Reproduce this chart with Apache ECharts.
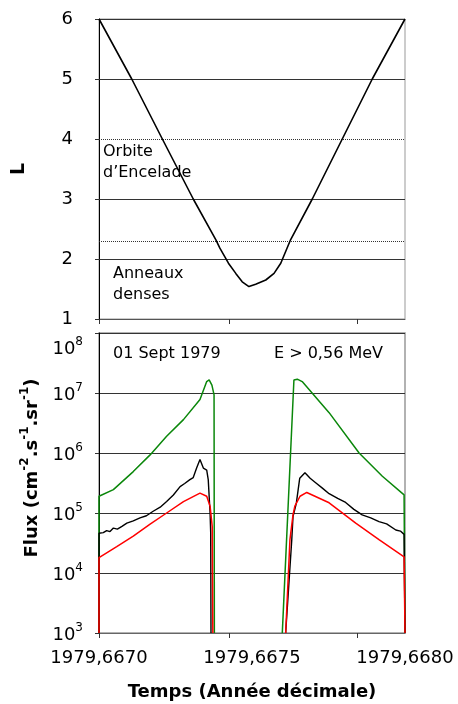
<!DOCTYPE html>
<html>
<head>
<meta charset="utf-8">
<script src="https://cdn.jsdelivr.net/npm/echarts@6/dist/echarts.min.js"></script>
<style>
html,body{margin:0;padding:0;background:#fff;}
#chart{width:458px;height:704px;}
</style>
</head>
<body>
<div id="chart"></div>
<script>
// ---- Data ----
var lTime  = [1979.667000, 1979.667107, 1979.667207, 1979.667308, 1979.667382, 1979.667395, 1979.667423, 1979.667447, 1979.667468, 1979.667490, 1979.667512, 1979.667545, 1979.667572, 1979.667594, 1979.667626, 1979.667697, 1979.667795, 1979.667893, 1979.668000];
var lValue = [6.0, 5.0, 4.0, 3.0, 2.32, 2.18, 1.93, 1.76, 1.62, 1.54, 1.58, 1.65, 1.76, 1.93, 2.32, 3.0, 4.0, 5.0, 6.0];
var lSolidLevels = [6, 5, 3, 2];
var lDottedLevels = [4, 2.3];

var greenTime = [1979.667000, 1979.667000, 1979.667047, 1979.667112, 1979.667167, 1979.667221, 1979.667276, 1979.667330, 1979.667352, 1979.667360, 1979.667369, 1979.667376, 1979.667377,
                 1979.667500,
                 1979.667599, 1979.667637, 1979.667648, 1979.667664, 1979.667752, 1979.667850, 1979.667926, 1979.667997, 1979.668000, 1979.668000];
var greenFlux = [1000, 1.9e5, 2.45e5, 4.9e5, 9.3e5, 1.9e6, 3.6e6, 7.8e6, 1.55e7, 1.65e7, 1.35e7, 9.3e6, 1000,
                 null,
                 1000, 1.65e7, 1.7e7, 1.55e7, 4.7e6, 1.0e6, 4.1e5, 2.0e5, 1.95e5, 1000];

var blackTime = [1979.667000, 1979.667000, 1979.667014, 1979.667025, 1979.667036, 1979.667047, 1979.667060, 1979.667075, 1979.667091, 1979.667112, 1979.667134, 1979.667155, 1979.667177, 1979.667200, 1979.667221, 1979.667243, 1979.667265, 1979.667280, 1979.667297, 1979.667308, 1979.667319, 1979.667330, 1979.667341, 1979.667352, 1979.667357, 1979.667363, 1979.667365, 1979.667366,
                 1979.667500,
                 1979.667610, 1979.667630, 1979.667634, 1979.667645, 1979.667656, 1979.667673, 1979.667690, 1979.667708, 1979.667730, 1979.667752, 1979.667780, 1979.667806, 1979.667833, 1979.667860, 1979.667888, 1979.667915, 1979.667940, 1979.667970, 1979.667985, 1979.667997, 1979.668000, 1979.668000];
var blackFlux = [1000, 4.6e4, 4.7e4, 5.1e4, 4.9e4, 5.6e4, 5.4e4, 6.0e4, 6.8e4, 7.4e4, 8.3e4, 9.0e4, 1.07e5, 1.25e5, 1.55e5, 2.0e5, 2.75e5, 3.1e5, 3.6e5, 3.9e5, 5.6e5, 7.8e5, 5.6e5, 5.2e5, 3.6e5, 1.0e5, 4.7e4, 1000,
                 null,
                 1000, 3.6e4, 8.7e4, 1.47e5, 3.8e5, 4.7e5, 3.8e5, 3.2e5, 2.6e5, 2.1e5, 1.75e5, 1.5e5, 1.15e5, 9.3e4, 8.3e4, 7.2e4, 6.6e4, 5.2e4, 5.0e4, 4.4e4, 4.4e4, 1000];

var redTime = [1979.667000, 1979.667000, 1979.667058, 1979.667112, 1979.667167, 1979.667221, 1979.667276, 1979.667330, 1979.667352, 1979.667363, 1979.667370, 1979.667372,
               1979.667500,
               1979.667610, 1979.667624, 1979.667634, 1979.667640, 1979.667657, 1979.667679, 1979.667752, 1979.667839, 1979.667915, 1979.667997, 1979.668000, 1979.668000];
var redFlux = [1000, 1.8e4, 2.75e4, 4.1e4, 6.5e4, 1.0e5, 1.55e5, 2.15e5, 1.9e5, 1.3e5, 6.0e4, 1000,
               null,
               1000, 3.6e4, 9.3e4, 1.3e5, 1.9e5, 2.2e5, 1.48e5, 6.8e4, 3.6e4, 1.86e4, 1.85e4, 1000];

var xLabelValues = [1979.6670, 1979.6675, 1979.6680];
var xTickValues = [1979.667000, 1979.667425, 1979.667845];

var annotations = [
  {text: 'Orbite', x: 103, y: 153},
  {text: 'd\u2019Encelade', x: 103, y: 174},
  {text: 'Anneaux', x: 113, y: 275},
  {text: 'denses', x: 113, y: 296},
  {text: '01 Sept 1979', x: 113, y: 355},
  {text: 'E > 0,56 MeV', x: 274, y: 355}
];

// ---- Chart ----
var FONT = 'DejaVu Sans';
function pairs(t, v) {
  return t.map(function (x, i) { return [x, v[i] === null ? '-' : v[i]]; });
}
var chart = echarts.init(document.getElementById('chart'), null, {renderer: 'canvas'});

var lMarks = lSolidLevels.map(function (v) {
  return {yAxis: v, lineStyle: {type: 'solid', color: '#333', width: 1}};
}).concat(lDottedLevels.map(function (v) {
  return {yAxis: v, lineStyle: {type: [1, 1], color: '#333', width: 1}};
}));

var option = {
  animation: false,
  backgroundColor: '#fff',
  grid: [
    {left: 99, top: 19, width: 306, height: 300, outerBoundsMode: 'none', containLabel: false, show: true, borderColor: '#999', borderWidth: 1, backgroundColor: 'transparent'},
    {left: 99, top: 333, width: 306, height: 300, outerBoundsMode: 'none', containLabel: false, show: true, borderColor: '#999', borderWidth: 1.5, backgroundColor: 'transparent'}
  ],
  xAxis: [
    {
      gridIndex: 0, type: 'value', min: 1979.6670, max: 1979.6680,
      axisLine: {show: true, onZero: false, lineStyle: {color: '#555', width: 1}},
      axisTick: {show: true, customValues: xTickValues, length: 5, lineStyle: {color: '#333'}},
      axisLabel: {show: false},
      splitLine: {show: false}
    },
    {
      gridIndex: 1, type: 'value', min: 1979.6670, max: 1979.6680,
      axisLine: {show: true, onZero: false, lineStyle: {color: '#666', width: 1}},
      axisTick: {show: true, customValues: xTickValues, length: 5, lineStyle: {color: '#333'}},
      axisLabel: {
        show: true, customValues: xLabelValues, margin: 16,
        fontFamily: FONT, fontSize: 18, color: '#000',
        formatter: function (v) { return v.toFixed(4).replace('.', ','); }
      },
      splitLine: {show: false},
      name: 'Temps (Ann\u00e9e d\u00e9cimale)', nameLocation: 'middle', nameGap: 50,
      nameTextStyle: {fontFamily: FONT, fontWeight: 'bold', fontSize: 18, color: '#000'}
    }
  ],
  yAxis: [
    {
      gridIndex: 0, type: 'value', min: 1, max: 6, interval: 1,
      axisLine: {show: true, lineStyle: {color: '#000', width: 1}},
      axisTick: {show: true, length: 4, lineStyle: {color: '#333'}},
      axisLabel: {fontFamily: FONT, fontSize: 18, color: '#000', margin: 26},
      splitLine: {show: false},
      name: 'L', nameLocation: 'middle', nameGap: 70, nameRotate: 90,
      nameTextStyle: {fontFamily: FONT, fontWeight: 'bold', fontSize: 19, color: '#000'}
    },
    {
      gridIndex: 1, type: 'log', logBase: 10, min: 1e3, max: 1e8,
      axisLine: {show: true, lineStyle: {color: '#000', width: 1}},
      axisTick: {show: true, length: 4, lineStyle: {color: '#333'}},
      axisLabel: {
        margin: 16,
        formatter: function (v) {
          var e = Math.round(Math.log10(v));
          var s = '{b|10}{s|' + e + '}';
          return e === 8 ? '{p| }\n' + s : s;
        },
        rich: {
          p: {fontSize: 1, lineHeight: 28},
          b: {fontFamily: FONT, fontSize: 18, color: '#000', lineHeight: 22, verticalAlign: 'bottom'},
          s: {fontFamily: FONT, fontSize: 12, color: '#000', lineHeight: 12, verticalAlign: 'top'}
        }
      },
      splitLine: {show: true, lineStyle: {color: '#333', width: 1}},
      name: '{b|Flux (cm}{s|-2}{b|.s}{s|-1}{b|.sr}{s|-1}{b|)}',
      nameLocation: 'middle', nameGap: 58, nameRotate: 90,
      nameTextStyle: {
        padding: [0, 0, 0, 30],
        rich: {
          b: {fontFamily: FONT, fontWeight: 'bold', fontSize: 18, color: '#000', lineHeight: 22, verticalAlign: 'bottom'},
          s: {fontFamily: FONT, fontWeight: 'bold', fontSize: 12, color: '#000', lineHeight: 12, verticalAlign: 'top'}
        }
      }
    }
  ],
  series: [
    {
      type: 'line', xAxisIndex: 0, yAxisIndex: 0, data: pairs(lTime, lValue),
      symbol: 'none', lineStyle: {color: '#000', width: 1.6}, z: 5,
      markLine: {silent: true, symbol: 'none', label: {show: false}, animation: false, data: lMarks, z: 1}
    },
    {
      type: 'line', xAxisIndex: 1, yAxisIndex: 1, data: pairs(greenTime, greenFlux),
      symbol: 'none', connectNulls: false, lineStyle: {color: '#0a870a', width: 1.5}, z: 4
    },
    {
      type: 'line', xAxisIndex: 1, yAxisIndex: 1, data: pairs(blackTime, blackFlux),
      symbol: 'none', connectNulls: false, lineStyle: {color: '#000', width: 1.4}, z: 5
    },
    {
      type: 'line', xAxisIndex: 1, yAxisIndex: 1, data: pairs(redTime, redFlux),
      symbol: 'none', connectNulls: false, lineStyle: {color: '#ff0000', width: 1.5}, z: 6
    }
  ],
  graphic: annotations.map(function (a) {
    return {
      type: 'text', left: a.x, top: a.y - 9, z: 100,
      style: {text: a.text, fontFamily: FONT, fontSize: 16, fill: '#000', textVerticalAlign: 'top'}
    };
  })
};
chart.setOption(option);
</script>
</body>
</html>
